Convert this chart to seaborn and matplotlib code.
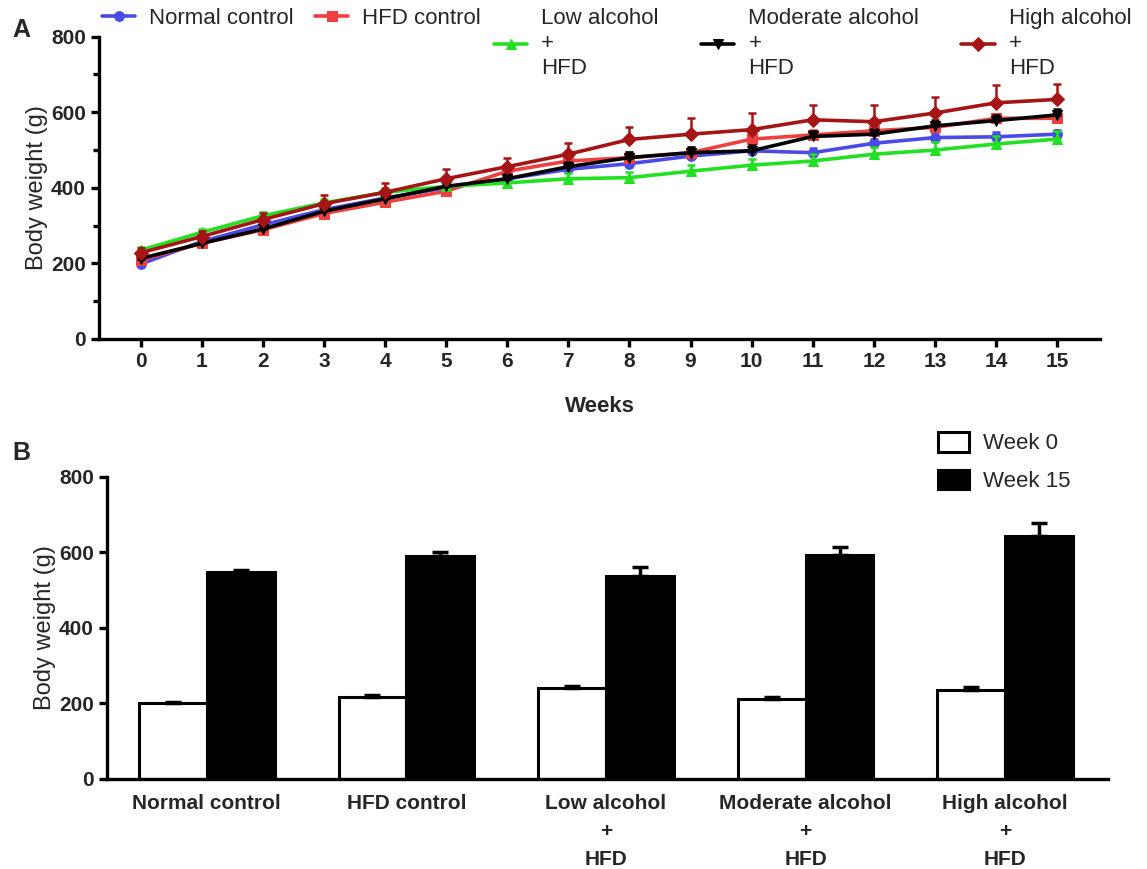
import matplotlib
matplotlib.use("Agg")
import matplotlib.pyplot as plt
import pandas as pd
import seaborn as sns
from matplotlib.ticker import MultipleLocator

sns.set_theme(style="ticks")
plt.rcParams["font.family"] = ["Liberation Sans", "DejaVu Sans"]

# ---- data -------------------------------------------------------------
weeks = list(range(16))
groups = [
    "Normal control",
    "HFD control",
    "Low alcohol\n+\nHFD",
    "Moderate alcohol\n+\nHFD",
    "High alcohol\n+\nHFD",
]

normal_mean = [198, 258, 302, 342, 373, 400, 424, 449, 464, 484, 498, 493, 518, 533, 535, 542]
hfd_mean = [209, 253, 289, 332, 362, 391, 444, 471, 480, 493, 529, 540, 551, 560, 584, 584]
low_mean = [235, 282, 326, 360, 388, 404, 413, 424, 427, 444, 460, 471, 489, 500, 516, 529]
moderate_mean = [213, 253, 291, 338, 371, 404, 424, 456, 480, 493, 498, 536, 542, 564, 578, 593]
high_mean = [228, 271, 316, 358, 388, 424, 456, 489, 528, 542, 554, 580, 575, 598, 625, 634]

normal_err = [5, 6, 7, 8, 8, 9, 10, 10, 11, 12, 12, 12, 12, 13, 12, 10]
hfd_err = [6, 7, 8, 9, 9, 10, 12, 13, 14, 14, 15, 13, 14, 14, 12, 12]
low_err = [8, 9, 10, 11, 12, 12, 13, 14, 15, 16, 17, 18, 19, 20, 21, 22]
moderate_err = [6, 7, 8, 9, 10, 11, 12, 13, 14, 14, 15, 15, 15, 16, 16, 15]
high_err = [14, 16, 18, 22, 26, 25, 24, 29, 32, 42, 44, 39, 44, 42, 46, 42]

week0 = [200, 217, 240, 213, 235]
week0_err = [3, 4, 5, 3, 8]
week15 = [547, 589, 536, 593, 643]
week15_err = [7, 11, 26, 20, 34]

line_means = [normal_mean, hfd_mean, low_mean, moderate_mean, high_mean]
line_errs = [normal_err, hfd_err, low_err, moderate_err, high_err]
line_colors = ["#4a4ae6", "#ee4040", "#22e022", "#000000", "#a51515"]
line_markers = ["o", "s", "^", "v", "D"]

# ---- figure -----------------------------------------------------------
fig = plt.figure(figsize=(11.47, 8.69), dpi=100)
ax_a = fig.add_axes([0.0863, 0.6099, 0.8727, 0.3479])
ax_b = fig.add_axes([0.0933, 0.1036, 0.8727, 0.3478])

# panel A: body weight over time
for name, mean, err, color, marker in zip(groups, line_means, line_errs, line_colors, line_markers):
    ax_a.errorbar(weeks, mean, yerr=[[0] * len(err), err], fmt="none",
                  ecolor=color, elinewidth=1.8, capsize=3, capthick=1.8)
    sns.lineplot(x=weeks, y=mean, color=color, marker=marker, markersize=7,
                 markeredgecolor=color, linewidth=2.6, label=name, ax=ax_a)

ax_a.set_xlim(-0.68, 15.7)
ax_a.set_ylim(0, 800)
ax_a.set_xticks(weeks)
ax_a.yaxis.set_major_locator(MultipleLocator(200))
ax_a.yaxis.set_minor_locator(MultipleLocator(100))
ax_a.set_xlabel("Weeks", fontsize=16, fontweight="bold", labelpad=18)
ax_a.set_ylabel("Body weight (g)", fontsize=17, labelpad=2)

handles, labels = ax_a.get_legend_handles_labels()
ax_a.get_legend().remove()
leg1 = fig.legend(handles[:2], labels[:2], loc="upper left", bbox_to_anchor=(0.089, 0.991),
                  ncol=2, frameon=False, fontsize=16, handlelength=1.5, handletextpad=0.63,
                  columnspacing=0.95, borderpad=0, borderaxespad=0)
leg2 = fig.legend(handles[2:], labels[2:], loc="upper left", bbox_to_anchor=(0.4307, 0.991),
                  ncol=3, frameon=False, fontsize=16, handlelength=1.5, handletextpad=0.63,
                  columnspacing=1.9, borderpad=0, borderaxespad=0)
for txt in leg2.get_texts():
    txt.set_linespacing(1.27)

# panel B: week 0 vs week 15
bar_df = pd.DataFrame({
    "group": groups * 2,
    "time": ["Week 0"] * len(groups) + ["Week 15"] * len(groups),
    "weight": week0 + week15,
})
sns.barplot(data=bar_df, x="group", y="weight", hue="time",
            palette={"Week 0": "white", "Week 15": "black"}, edgecolor="black",
            linewidth=2.2, width=0.68, gap=0, errorbar=None, ax=ax_b)

for container, errs in zip(ax_b.containers, [week0_err, week15_err]):
    for patch, e in zip(container, errs):
        xc = patch.get_x() + patch.get_width() / 2
        ax_b.errorbar(xc, patch.get_height(), yerr=[[0], [e]], fmt="none", ecolor="black",
                      elinewidth=2.5, capsize=6, capthick=2.5, zorder=5)

ax_b.set_xlim(-0.5, 4.515)
ax_b.set_ylim(0, 800)
ax_b.yaxis.set_major_locator(MultipleLocator(200))
ax_b.set_xlabel("")
ax_b.set_ylabel("Body weight (g)", fontsize=17, labelpad=2)

bar_handles, bar_labels = ax_b.get_legend_handles_labels()
ax_b.get_legend().remove()
fig.legend(bar_handles, bar_labels, loc="upper left", bbox_to_anchor=(0.818, 0.503),
           frameon=False, fontsize=16, handlelength=1.4, handleheight=1.0,
           handletextpad=0.63, labelspacing=0.68, borderpad=0, borderaxespad=0)

for ax in (ax_a, ax_b):
    for side in ("top", "right"):
        ax.spines[side].set_visible(False)
    for side in ("left", "bottom"):
        ax.spines[side].set_linewidth(2.4)
        ax.spines[side].set_color("black")
    ax.tick_params(which="major", length=6, width=2.4, color="black", labelsize=15)
    ax.tick_params(which="minor", length=4, width=2.4, color="black")
    for lbl in ax.get_xticklabels() + ax.get_yticklabels():
        lbl.set_fontweight("bold")
ax_b.tick_params(axis="x", length=0, pad=11)
for lbl in ax_b.get_xticklabels():
    lbl.set_linespacing(1.6)

fig.text(0.011, 0.966, "A", fontsize=18, fontweight="bold", va="center")
fig.text(0.011, 0.479, "B", fontsize=18, fontweight="bold", va="center")

fig.savefig("out.png", dpi=100)
